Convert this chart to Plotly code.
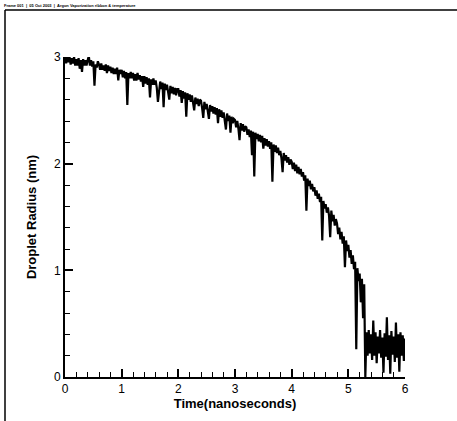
import plotly.graph_objects as go

W, H = 457, 421
PL, PR, PT, PB = 65, 405, 57, 377  # plot-area pixel edges

header_text = "Frame 001  |  05 Oct 2003  |  Argon Vaporization ribbon &amp; temperature"
x_title = "Time(nanoseconds)"
y_title = "Droplet Radius (nm)"
x_ticks = [0, 1, 2, 3, 4, 5, 6]
y_ticks = [0, 1, 2, 3]

dt_ns = 0.02
radius_nm = [
    3.00, 2.94, 3.01, 2.95, 3.00, 2.93, 2.99, 2.94, 3.00, 2.92,
    2.98, 2.92, 2.99, 2.89, 2.97, 2.86, 2.98, 2.92, 2.97, 2.92,
    2.97, 3.01, 2.92, 2.97, 2.91, 2.96, 2.73, 2.93, 2.90, 2.96,
    2.93, 2.88, 2.94, 2.88, 2.92, 2.87, 2.93, 2.85, 2.92, 2.87,
    2.91, 2.85, 2.90, 2.84, 2.89, 2.84, 2.90, 2.78, 2.88, 2.84,
    2.88, 2.81, 2.87, 2.80, 2.86, 2.55, 2.85, 2.80, 2.86, 2.80,
    2.85, 2.78, 2.84, 2.78, 2.85, 2.79, 2.83, 2.77, 2.82, 2.72,
    2.82, 2.75, 2.81, 2.74, 2.80, 2.62, 2.79, 2.74, 2.80, 2.74,
    2.78, 2.71, 2.58, 2.72, 2.77, 2.70, 2.76, 2.53, 2.75, 2.69,
    2.74, 2.67, 2.60, 2.73, 2.66, 2.72, 2.65, 2.71, 2.64, 2.70,
    2.70, 2.63, 2.69, 2.57, 2.68, 2.61, 2.67, 2.44, 2.66, 2.60,
    2.65, 2.58, 2.64, 2.57, 2.50, 2.62, 2.56, 2.61, 2.54, 2.60,
    2.59, 2.52, 2.43, 2.58, 2.51, 2.56, 2.49, 2.42, 2.55, 2.49,
    2.54, 2.47, 2.53, 2.46, 2.52, 2.38, 2.51, 2.44, 2.50, 2.43,
    2.48, 2.41, 2.32, 2.47, 2.40, 2.45, 2.29, 2.44, 2.38, 2.42,
    2.41, 2.34, 2.40, 2.33, 2.22, 2.38, 2.31, 2.37, 2.30, 2.35,
    2.34, 2.27, 2.32, 2.25, 2.31, 2.08, 2.30, 1.88, 2.29, 2.23,
    2.28, 2.21, 2.27, 2.20, 2.26, 2.14, 2.24, 2.17, 2.23, 2.16,
    2.21, 2.14, 2.20, 1.83, 2.18, 2.11, 2.17, 2.10, 2.15, 2.08,
    2.12, 2.05, 1.92, 2.10, 2.03, 2.08, 2.01, 2.06, 1.99, 2.04,
    2.02, 1.95, 2.01, 1.93, 1.99, 1.91, 1.97, 1.90, 1.95, 1.88,
    1.92, 1.84, 1.89, 1.56, 1.86, 1.79, 1.84, 1.76, 1.81, 1.74,
    1.78, 1.70, 1.75, 1.67, 1.72, 1.64, 1.69, 1.28, 1.65, 1.58,
    1.62, 1.54, 1.59, 1.51, 1.31, 1.56, 1.46, 1.52, 1.42, 1.48,
    1.44, 1.34, 1.40, 1.29, 1.36, 1.25, 1.32, 1.03, 1.28, 1.18,
    1.24, 1.12, 1.19, 1.06, 1.14, 1.01, 1.08, 0.26, 1.02, 0.90,
    0.97, 0.70, 0.92, 0.55, 0.87, 0.00, 0.42, 0.20, 0.44, 0.22,
    0.40, 0.16, 0.53, 0.20, 0.42, 0.13, 0.38, 0.22, 0.44, 0.18,
    0.37, 0.04, 0.41, 0.19, 0.56, 0.16, 0.39, 0.03, 0.43, 0.21,
    0.38, 0.14, 0.51, 0.18, 0.40, 0.05, 0.42, 0.20, 0.39, 0.15,
    0.36,
]
time_ns = [round(i * dt_ns, 2) for i in range(len(radius_nm))]

FONT = "Arial, 'Liberation Sans', Helvetica, sans-serif"

fig = go.Figure()
fig.add_trace(go.Scatter(x=time_ns, y=radius_nm, mode="lines",
                         line=dict(color="black", width=2.2), showlegend=False))


def px_x(p):
    return (p - PL) / (PR - PL)


def px_y(p):
    return (PB - p) / (PB - PT)


axis_common = dict(
    showline=True, linecolor="black", linewidth=2, mirror=False,
    showgrid=False, zeroline=False, automargin=False,
    ticks="inside", ticklen=8, tickwidth=1.5, tickcolor="black",
    tickfont=dict(family=FONT, size=12, color="black"),
    tickmode="array",
)

fig.update_layout(
    width=W, height=H,
    margin=dict(l=PL, r=W - PR, t=PT, b=H - PB, pad=0, autoexpand=False),
    paper_bgcolor="white", plot_bgcolor="white",
    font=dict(family=FONT, color="black"),
    xaxis=dict(
        **axis_common,
        range=[0, 6], tickvals=x_ticks, ticktext=[str(v) for v in x_ticks],
        minor=dict(dtick=0.2, tick0=0, ticks="inside", ticklen=5, tickwidth=1.2, tickcolor="black"),
        title=dict(text=x_title, font=dict(family=FONT, size=13, weight="bold"), standoff=0),
    ),
    yaxis=dict(
        **axis_common,
        range=[0, 3], tickvals=y_ticks, ticktext=[str(v) for v in y_ticks],
        minor=dict(dtick=0.2, tick0=0, ticks="inside", ticklen=5, tickwidth=1.2, tickcolor="black"),
        title=dict(text=y_title, font=dict(family=FONT, size=13, weight="bold"), standoff=14),
    ),
    shapes=[
        dict(type="line", xref="paper", yref="paper",
             x0=px_x(5), x1=px_x(W), y0=px_y(10), y1=px_y(10),
             line=dict(color="black", width=1.5)),
        dict(type="line", xref="paper", yref="paper",
             x0=px_x(5), x1=px_x(5), y0=px_y(10), y1=px_y(H),
             line=dict(color="black", width=1.5)),
    ],
    annotations=[
        dict(text="<b>" + header_text + "</b>", xref="paper", yref="paper",
             x=px_x(2), y=px_y(1), xanchor="left", yanchor="top", showarrow=False,
             font=dict(family=FONT, size=4, color="black")),
    ],
)

fig.write_html("out.html")
